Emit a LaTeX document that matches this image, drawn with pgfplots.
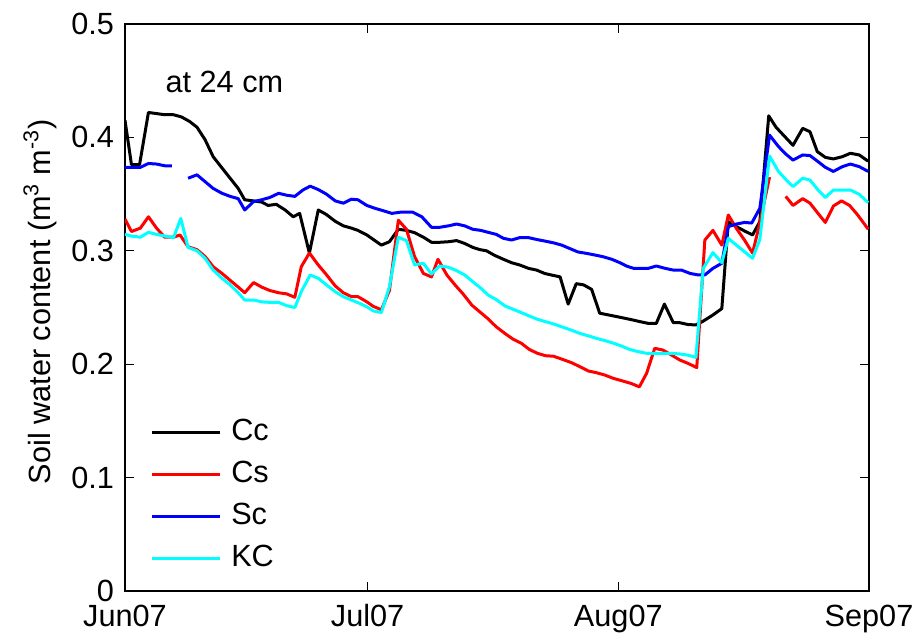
\documentclass[border=0pt]{standalone}
\usepackage{pgfplots}
\pgfplotsset{compat=1.18}
\usepackage{fontspec}
\setmainfont{Liberation Sans}
\definecolor{mred}{RGB}{255,0,0}
\definecolor{mblue}{RGB}{0,0,255}
\definecolor{mcyan}{RGB}{0,255,255}
\begin{document}
\begin{tikzpicture}
\begin{axis}[
  scale only axis,
  width=558pt, height=425.25pt,
  xmin=0, xmax=92, ymin=0, ymax=0.5,
  xtick={0,30,61,92},
  xticklabels={Jun07,Jul07,Aug07,Sep07},
  ytick={0,0.1,0.2,0.3,0.4,0.5},
  yticklabels={0,0.1,0.2,0.3,0.4,0.5},
  tick align=inside,
  major tick length=6.5pt,
  tick style={line width=1pt, black},
  axis line style={line width=1.5pt},
  every axis/.append style={line width=1.5pt},
  font=\fontsize{23}{27}\selectfont,
  ticklabel style={font=\fontsize{23}{27}\selectfont},
  yticklabel style={inner sep=0pt, xshift=-7.5pt},
  xticklabel style={inner sep=0pt, yshift=-9.5pt},
  ylabel={Soil water content (m\textsuperscript{3} m\textsuperscript{-3})},
  ylabel style={at={(axis description cs:-0.114,0.51)}, anchor=center, font=\fontsize{23}{27}\selectfont},
  legend style={draw=none, fill=none, inner sep=0pt, outer sep=0pt,
    at={(axis description cs:0.034,0.305)}, anchor=north west,
    nodes={inner sep=0pt, text height=17pt, text depth=0pt, anchor=base west},
    row sep=14.5pt, column sep=7.5pt, font=\fontsize{23}{27}\selectfont},
  legend cell align=left,
  legend image code/.code={\draw[#1] (0pt,6pt) -- (51pt,6pt);},
  every axis plot/.append style={line width=2.25pt, line join=round},
]
% Cc
\addplot[black] coordinates {
(0,0.415)(0.8,0.376)(1.8,0.376)(2.9,0.422)(3.9,0.421)(4.9,0.420)(6,0.420)(7,0.418)(8,0.414)(8.9,0.409)
(9.9,0.398)(10.9,0.383)(12,0.373)(13,0.364)(14,0.355)(14.8,0.345)(15.9,0.344)(16.9,0.343)(17.7,0.340)(18.7,0.341)
(19.8,0.336)(20.8,0.330)(21.6,0.333)(22.8,0.298)(23.9,0.336)(24.9,0.332)(26,0.326)(27,0.322)(28,0.320)(28.8,0.318)
(29.9,0.314)(30.7,0.310)(31.7,0.305)(32.7,0.308)(33.8,0.319)(34.8,0.318)(35.8,0.316)(36.9,0.312)(37.9,0.3075)(38.9,0.3075)
(40,0.308)(41,0.309)(42,0.3065)(43,0.303)(43.9,0.301)(44.7,0.300)(45.7,0.296)(46.8,0.2925)(47.8,0.2895)(48.8,0.2875)
(49.9,0.2845)(50.9,0.283)(51.9,0.280)(52.7,0.2787)(53.8,0.277)(54.8,0.253)(55.8,0.271)(56.7,0.270)(57.7,0.266)(58.7,0.245)
(59.8,0.2434)(60.8,0.242)(61.8,0.2405)(62.8,0.239)(63.7,0.2375)(64.7,0.236)(65.7,0.236)(66.7,0.253)(67.8,0.2366)(68.6,0.2366)
(69.6,0.235)(70.6,0.2346)(71.5,0.238)(72.7,0.2434)(73.8,0.249)(74.6,0.3257)(75.7,0.321)(76.6,0.3175)(77.6,0.314)(78.5,0.3257)
(79.6,0.419)(80.5,0.409)(81.6,0.4006)(82.6,0.393)(83.8,0.408)(84.7,0.405)(85.6,0.3875)(86.6,0.3824)(87.6,0.381)(88.7,0.383)
(89.7,0.386)(90.8,0.3845)(91.9,0.379)
};
\addlegendentry{Cc}
% Cs
\addplot[mred, unbounded coords=jump] coordinates {
(0,0.328)(0.8,0.317)(1.9,0.320)(2.9,0.330)(3.9,0.320)(4.9,0.312)(6,0.312)(6.8,0.314)(7.8,0.3036)(8.9,0.301)
(9.9,0.295)(10.9,0.286)(12,0.280)(13,0.274)(14,0.268)(14.8,0.263)(15.9,0.272)(16.9,0.268)(17.9,0.265)(19,0.263)
(20,0.262)(21,0.259)(21.8,0.286)(22.8,0.298)(23.9,0.2875)(24.9,0.279)(26,0.269)(27,0.263)(28,0.2596)(28.8,0.2596)
(29.9,0.255)(30.7,0.251)(31.7,0.248)(32.7,0.265)(33.8,0.327)(34.8,0.319)(35.8,0.295)(36.9,0.280)(37.9,0.277)(38.7,0.2925)
(39.8,0.2787)(40.8,0.270)(41.8,0.262)(42.9,0.252)(43.9,0.246)(44.9,0.240)(45.9,0.233)(47,0.227)(48,0.222)(49,0.2185)
(50,0.213)(51,0.2096)(52,0.2075)(53,0.207)(54.2,0.204)(55.2,0.2014)(56.2,0.198)(57.3,0.194)(58.3,0.1925)(59.3,0.1905)
(60.4,0.1875)(61.4,0.1855)(62.6,0.183)(63.6,0.180)(64.5,0.192)(65.5,0.214)(66.5,0.2125)(67.6,0.208)(68.6,0.2037)(69.6,0.2008)
(70.7,0.197)(71.7,0.3095)(72.7,0.318)(73.8,0.305)(74.6,0.3316)(75.6,0.3197)(76.6,0.3095)(77.6,0.298)(78.5,0.3245)(79.7,0.365)
(80.7,nan)
(81.7,0.348)(82.6,0.340)(83.8,0.346)(84.7,0.342)(85.7,0.333)(86.6,0.325)(87.6,0.3395)(88.6,0.344)(89.6,0.340)(90.6,0.3316)
(91.9,0.319)
};
\addlegendentry{Cs}
% Sc
\addplot[mblue, unbounded coords=jump] coordinates {
(0,0.3736)(0.8,0.3736)(1.9,0.3736)(2.9,0.377)(3.9,0.3765)(4.9,0.375)(5.8,0.375)
(6.8,nan)
(7.8,0.364)(8.9,0.367)(9.9,0.361)(10.9,0.355)(12,0.3507)(13,0.348)(14,0.346)(14.8,0.336)(15.9,0.3434)(16.9,0.345)
(17.9,0.347)(19,0.3507)(20,0.349)(21,0.348)(22,0.3536)(22.9,0.357)(23.9,0.354)(24.9,0.350)(26,0.344)(27,0.342)
(28,0.3455)(28.8,0.345)(29.9,0.340)(30.9,0.3375)(31.9,0.3354)(33,0.333)(34,0.334)(35.6,0.334)(36.7,0.330)(37.9,0.3207)
(38.9,0.3207)(40,0.322)(41,0.3236)(42,0.322)(43,0.319)(44,0.318)(44.9,0.3163)(45.9,0.3145)(46.8,0.311)(47.8,0.3095)
(48.8,0.3116)(49.9,0.3116)(50.9,0.310)(51.9,0.3086)(53,0.307)(54,0.305)(55,0.302)(56,0.299)(57.1,0.2977)(58.1,0.2963)
(59.1,0.2948)(60.2,0.2925)(61.2,0.2895)(62,0.2866)(62.9,0.2845)(63.7,0.2845)(64.7,0.2845)(65.7,0.2866)(66.8,0.2845)(67.8,0.283)
(68.8,0.283)(69.9,0.280)(70.9,0.2787)(71.7,0.2787)(72.7,0.2845)(73.8,0.289)(74.6,0.3213)(75.6,0.3236)(76.6,0.325)(77.5,0.3245)
(78.5,0.3375)(79.7,0.402)(80.8,0.392)(81.6,0.386)(82.6,0.380)(83.8,0.3845)(84.7,0.384)(85.7,0.3786)(86.6,0.3736)(87.6,0.370)
(88.7,0.3742)(89.7,0.3765)(90.8,0.3742)(91.9,0.370)
};
\addlegendentry{Sc}
% KC
\addplot[mcyan] coordinates {
(0,0.3145)(0.8,0.313)(1.9,0.312)(2.9,0.3163)(3.9,0.3145)(4.9,0.313)(6,0.3116)(6.9,0.3285)(7.8,0.303)(8.9,0.300)
(9.9,0.2934)(10.9,0.283)(12,0.2757)(13,0.270)(14,0.263)(14.8,0.2566)(15.9,0.2566)(16.9,0.255)(17.9,0.2545)(19,0.2545)
(20,0.2516)(21,0.250)(21.8,0.264)(22.9,0.2787)(23.9,0.2757)(24.9,0.270)(26,0.264)(27,0.2595)(28,0.2566)(29,0.2537)
(29.9,0.2507)(30.7,0.247)(31.7,0.2455)(32.7,0.2684)(33.8,0.312)(34.8,0.309)(35.8,0.2875)(36.9,0.289)(37.9,0.2795)(38.9,0.2866)
(40,0.2855)(41,0.2825)(42,0.2787)(43,0.2728)(44,0.267)(44.9,0.261)(45.9,0.257)(47,0.2513)(48,0.2484)(49,0.2455)
(50,0.2425)(51,0.2396)(52,0.2375)(53,0.2355)(54.2,0.2325)(55.2,0.230)(56.3,0.227)(57.3,0.225)(58.3,0.2228)(59.4,0.2207)
(60.4,0.2185)(61.4,0.216)(62.4,0.213)(63.5,0.211)(64.5,0.2096)(65.5,0.2096)(66.5,0.2096)(67.6,0.2096)(68.6,0.209)(69.6,0.208)
(70.6,0.206)(71.5,0.2845)(72.7,0.2984)(73.8,0.2895)(74.6,0.311)(75.6,0.305)(76.6,0.2992)(77.6,0.2934)(78.5,0.310)(79.7,0.3836)
(80.8,0.370)(81.7,0.363)(82.6,0.3566)(83.8,0.364)(84.7,0.3624)(85.7,0.3536)(86.6,0.347)(87.6,0.3536)(88.7,0.3536)(89.7,0.3536)
(90.8,0.3498)(91.9,0.3424)
};
\addlegendentry{KC}
\node[anchor=west, inner sep=0pt, font=\fontsize{23}{27}\selectfont] at (axis cs:4.9,0.449) {at 24 cm};
\end{axis}
\pgfresetboundingbox
\path (-93.75pt,-33.75pt) rectangle (596.25pt,443.25pt);
\end{tikzpicture}
\end{document}
